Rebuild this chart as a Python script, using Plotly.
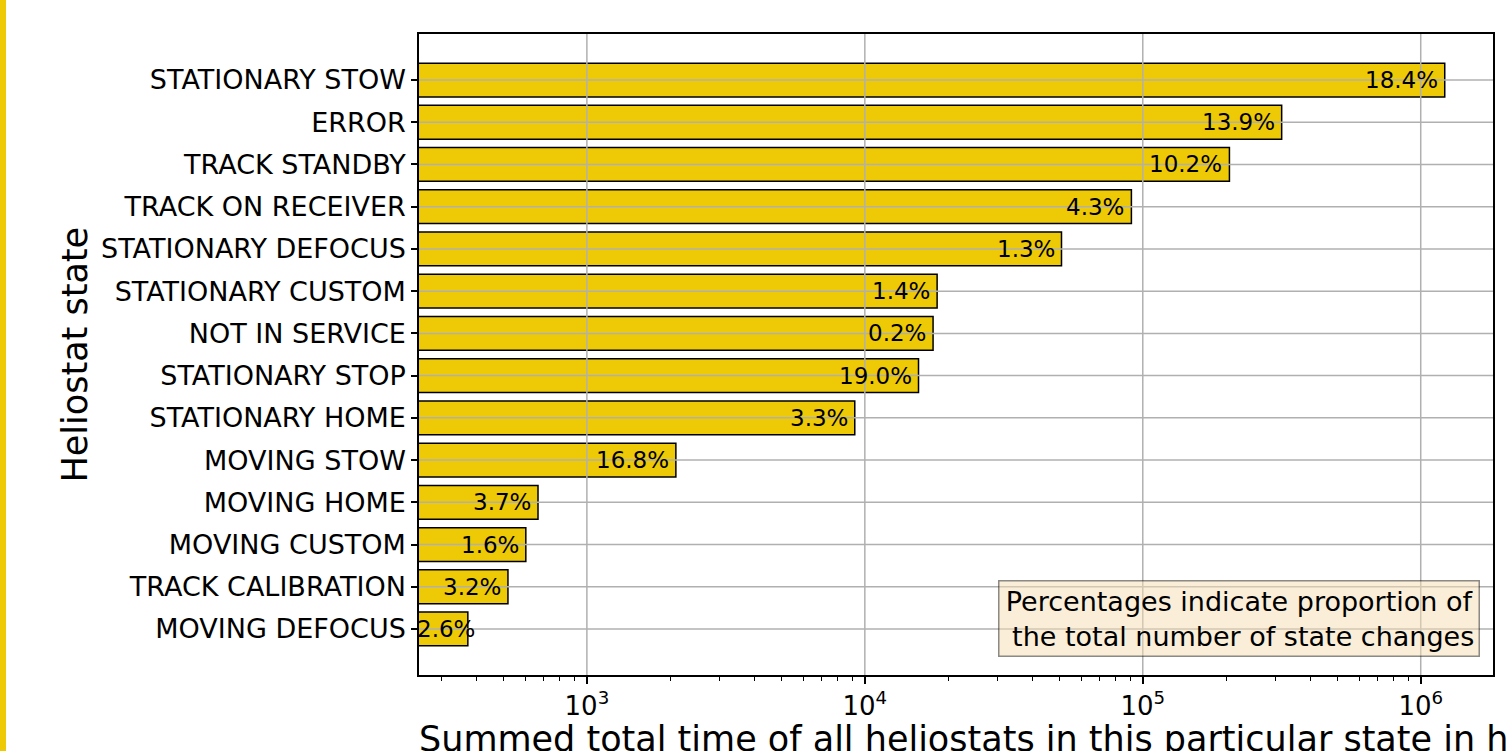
import math
import plotly.graph_objects as go

# ---- data ----
states = [
    "STATIONARY STOW", "ERROR", "TRACK STANDBY", "TRACK ON RECEIVER",
    "STATIONARY DEFOCUS", "STATIONARY CUSTOM", "NOT IN SERVICE",
    "STATIONARY STOP", "STATIONARY HOME", "MOVING STOW", "MOVING HOME",
    "MOVING CUSTOM", "TRACK CALIBRATION", "MOVING DEFOCUS",
]
total_hours = [
    1.22e6, 3.16e5, 2.05e5, 9.1e4,
    5.1e4, 1.82e4, 1.76e4,
    1.56e4, 9.2e3, 2.09e3, 667,
    603, 520, 373,
]
pct_changes = [
    "18.4%", "13.9%", "10.2%", "4.3%",
    "1.3%", "1.4%", "0.2%",
    "19.0%", "3.3%", "16.8%", "3.7%",
    "1.6%", "3.2%", "2.6%",
]
x_tickvals = [1e3, 1e4, 1e5, 1e6]
x_ticktext = ["10<sup>3</sup>", "10<sup>4</sup>", "10<sup>5</sup>", "10<sup>6</sup>"]
x_minor = [m * 10 ** e for e in range(2, 7) for m in range(2, 10)]
X_RANGE = [2.396, 6.26]

BAR = "#EEC906"
GRID = "#b0b0b0"
FONT = "DejaVu Sans"

fig = go.Figure()
fig.add_trace(go.Bar(
    x=total_hours, y=states, orientation="h", width=0.8,
    marker=dict(color=BAR, line=dict(color="black", width=1.5)),
    hoverinfo="skip",
))

shapes = []
# grid lines drawn above bars (matplotlib axisbelow=False look)
for v in x_tickvals:
    shapes.append(dict(type="line", xref="x", yref="paper", x0=v, x1=v, y0=0, y1=1,
                       line=dict(color=GRID, width=1.5), layer="above"))
for s in states:
    shapes.append(dict(type="line", xref="paper", yref="y", x0=0, x1=1, y0=s, y1=s,
                       line=dict(color=GRID, width=1.5), layer="above"))
# yellow strip at left page edge
shapes.append(dict(type="rect", xref="paper", yref="paper",
                   x0=-419 / 1074, x1=(6 - 419) / 1074, y0=-76 / 641, y1=1 + 34 / 641,
                   fillcolor=BAR, line=dict(width=0), layer="above"))

annotations = []
for s, v, p in zip(states, total_hours, pct_changes):
    lx = max(math.log10(v), X_RANGE[0] + 0.225)  # keep short-bar labels inside the axes
    annotations.append(dict(x=lx, y=s, xref="x", yref="y", text=p,
                            showarrow=False, xanchor="right", yanchor="middle", xshift=-5,
                            font=dict(family=FONT, size=23, color="black")))
annotations.append(dict(
    x=0.988, y=0.028, xref="paper", yref="paper", xanchor="right", yanchor="bottom",
    text="Percentages indicate proportion of<br> the total number of state changes",
    showarrow=False, align="center",
    font=dict(family=FONT, size=27, color="black"),
    bgcolor="rgba(245,222,179,0.5)", bordercolor="rgba(0,0,0,0.45)",
    borderwidth=1.5, borderpad=4,
))
annotations.append(dict(
    x=(74 - 419) / 1074, y=0.5, xref="paper", yref="paper", textangle=-90,
    xanchor="center", yanchor="middle", text="Heliostat state", showarrow=False,
    font=dict(family=FONT, size=35, color="black"),
))
annotations.append(dict(
    x=(417 - 419) / 1074, y=(675 - 739) / 641, xref="paper", yref="paper",
    xanchor="left", yanchor="middle",
    text="Summed total time of all heliostats in this particular state in hours",
    showarrow=False, font=dict(family=FONT, size=35, color="black"),
))

fig.update_layout(
    width=1508, height=751,
    margin=dict(l=419, r=15, t=34, b=76),
    paper_bgcolor="white", plot_bgcolor="white",
    showlegend=False, font=dict(family=FONT, color="black"),
    shapes=shapes, annotations=annotations,
)
fig.update_xaxes(
    type="log", range=X_RANGE,
    tickmode="array", tickvals=x_tickvals, ticktext=x_ticktext,
    ticks="outside", ticklen=7, tickwidth=1.5, tickcolor="black",
    tickfont=dict(family=FONT, size=26, color="black"),
    minor=dict(tickmode="array", tickvals=x_minor, ticks="outside", ticklen=4,
               tickwidth=1, tickcolor="black", showgrid=False),
    showgrid=False, zeroline=False,
    showline=True, linecolor="black", linewidth=1.5, mirror=True, layer="above traces",
)
fig.update_yaxes(
    type="category", categoryorder="array", categoryarray=states,
    range=[14.09, -1.09],
    ticks="outside", ticklen=6, tickwidth=1.5, tickcolor="black",
    tickfont=dict(family=FONT, size=27, color="black"),
    showgrid=False, zeroline=False,
    showline=True, linecolor="black", linewidth=1.5, mirror=True, layer="above traces",
)

fig.write_html("out.html")
